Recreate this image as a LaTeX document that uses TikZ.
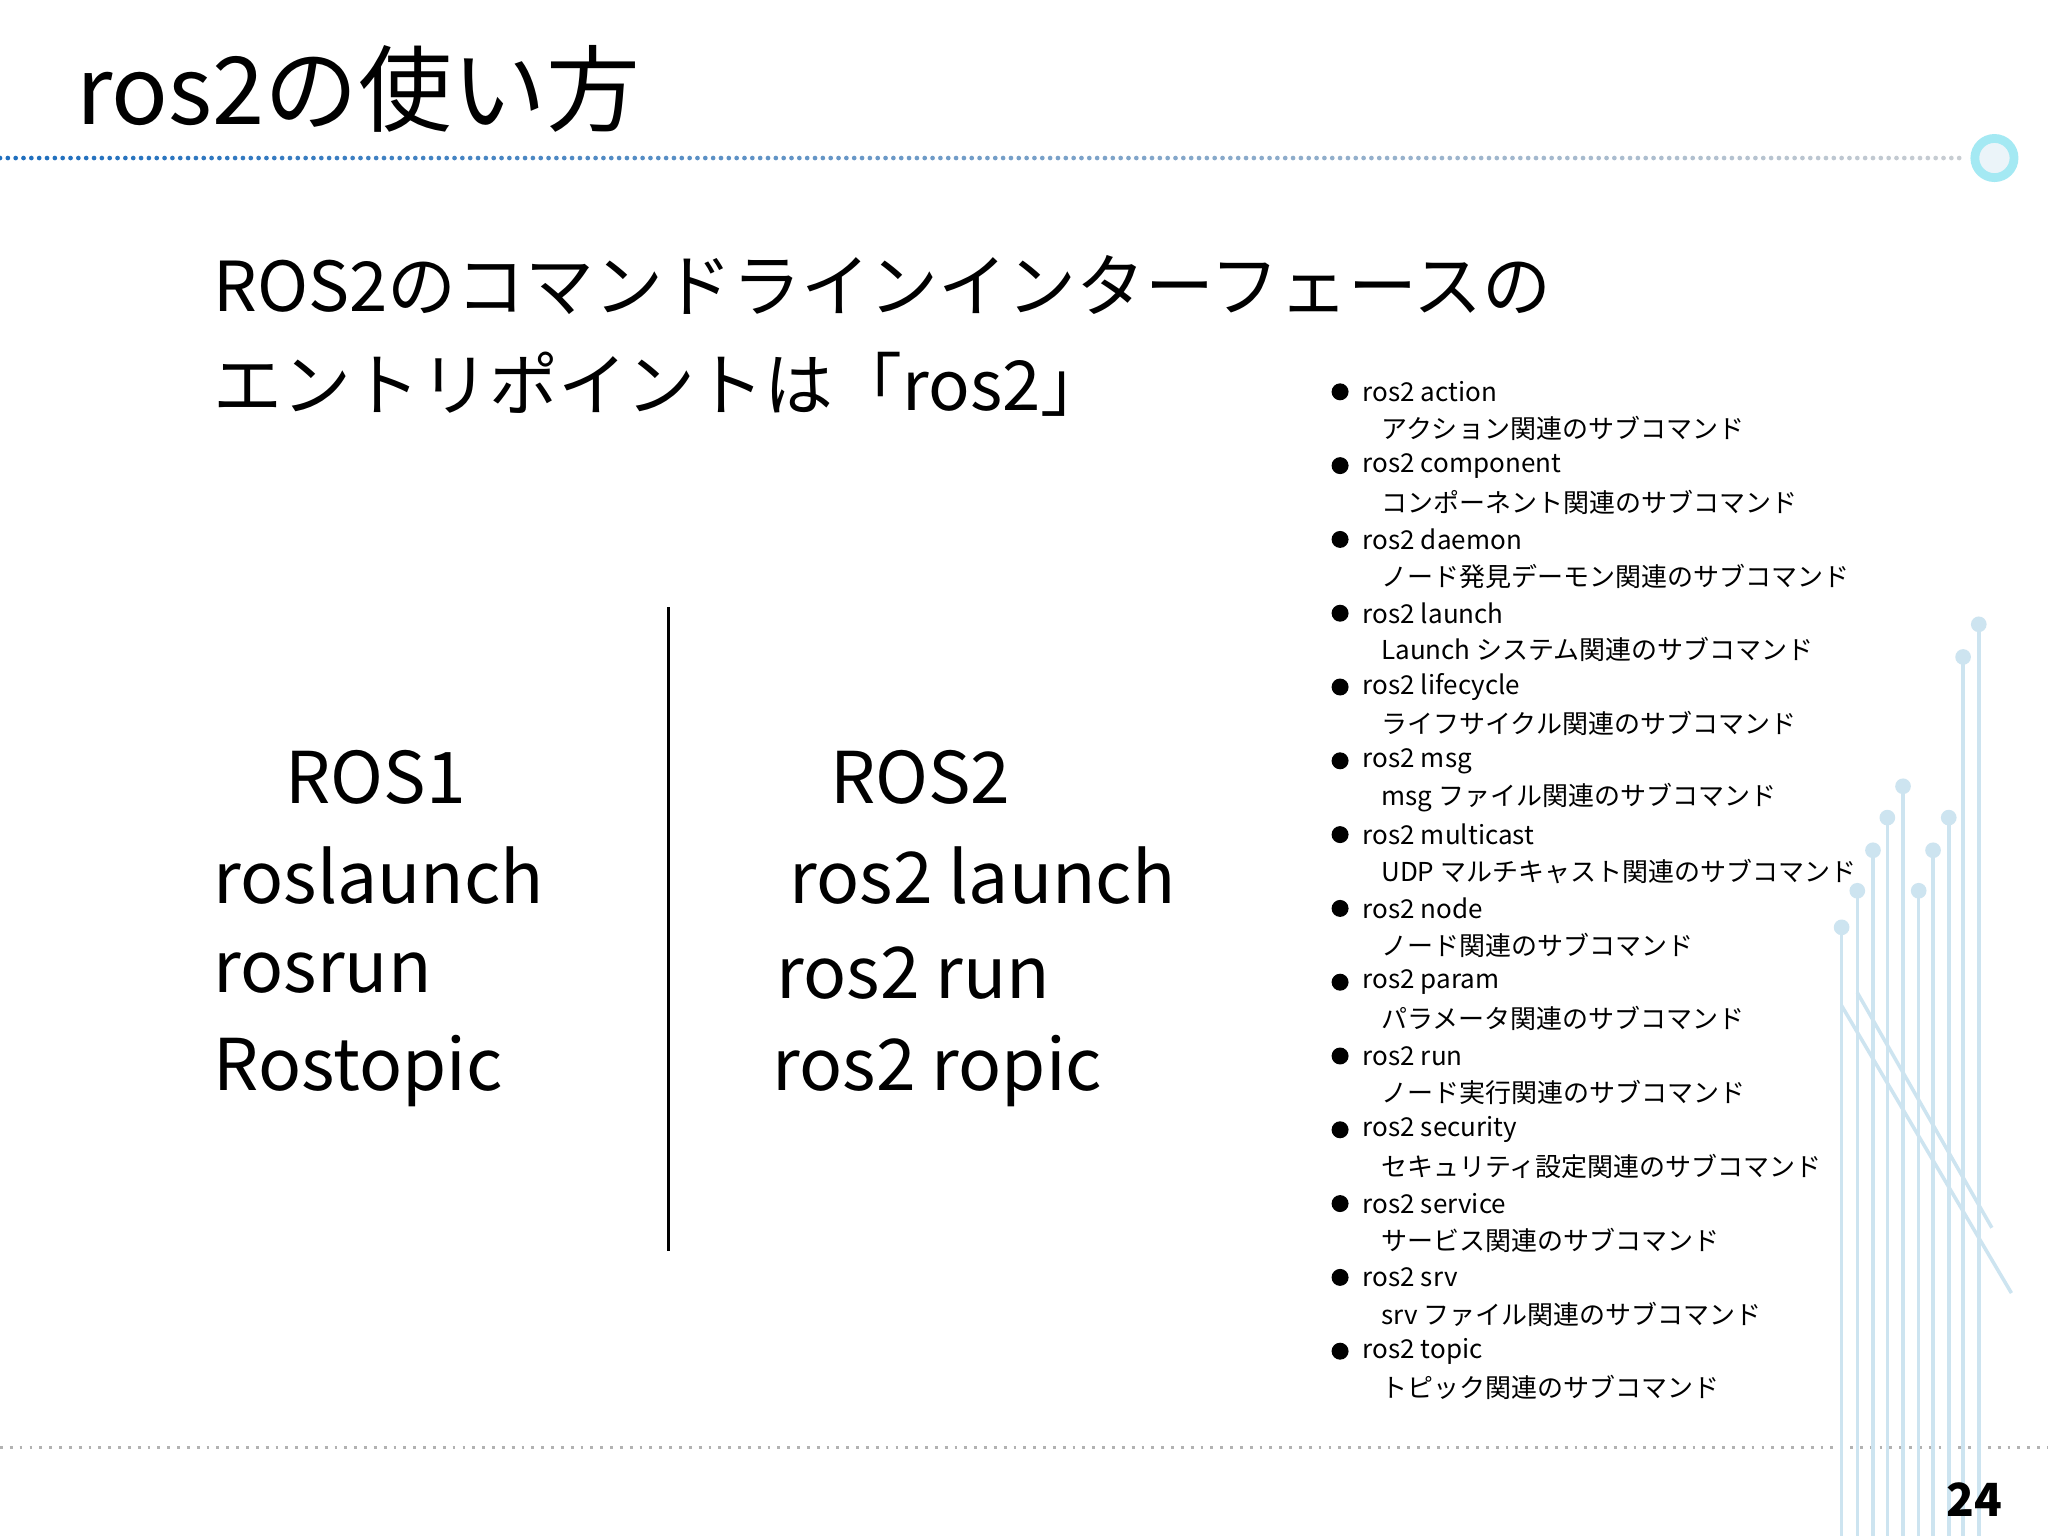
\documentclass[tikz,border=0pt]{standalone}
\usepackage{fontspec}
\setmainfont{Noto Sans CJK JP}
\definecolor{dc}{RGB}{205,228,240}
\definecolor{hb}{RGB}{30,110,190}
\definecolor{hg}{RGB}{200,205,210}
\begin{document}
\begin{tikzpicture}[x=0.0130612cm,y=-0.0130612cm,
  t/.style={anchor=west,inner sep=0pt},
  big/.style={t,font=\fontsize{20.3pt}{24pt}\selectfont},
  head/.style={t,font=\fontsize{19.6pt}{22pt}\selectfont},
  li/.style={t,font=\fontsize{7.4pt}{9pt}\selectfont},
  deco/.style={draw=dc,line width=1pt},
  dot/.style={fill=dc}]
\useasboundingbox (0,0) rectangle (1568,1176);
\fill[white] (0,0) rectangle (1568,1176);
\node[t,font=\fontsize{26.7pt}{32pt}\selectfont] (title) at (58,68) {ros2の使い方};
% header dotted line
\foreach \i in {0,...,250}{
  \pgfmathsetmacro{\p}{100-\i*0.4}
  \fill[hb!\p!hg] (\i*6,121) circle (1.8);
}
\draw[dc!80!cyan,line width=2.5pt,fill=dc!40] (1527,121) circle (15);
\draw[gray!60,dotted,line width=0.8pt] (0,1108) -- (1568,1108);
% decorations
\foreach \x/\y in {1515/478,1503/503,1457/602,1445/626,1492/626,1480/651,1434/651,1469/682,1422/682,1410/710}{
  \draw[deco] (\x,\y) -- (\x,1176);
  \fill[dot] (\x,\y) circle (6);
}
\draw[deco] (1410,770) -- (1540,990);
\draw[deco] (1422,760) -- (1525,940);
\node[head] (h1) at (163,218) {ROS2のコマンドラインインターフェースの};
\node[head] (h2) at (163,294) {エントリポイントは「ros2」};
\draw[line width=1pt] (512,465) -- (512,958);
\node[big] (a1) at (218,595) {ROS1};
\node[big] (a2) at (163,670) {roslaunch};
\node[big] (a3) at (163,745) {rosrun};
\node[big] (a4) at (163,820) {Rostopic};
\node[big] (b1) at (635,595) {ROS2};
\node[big] (b2) at (604,670) {ros2 launch};
\node[big] (b3) at (594,745) {ros2 run};
\node[big] (b4) at (591,820) {ros2 ropic};
\foreach [count=\i from 0] \a/\b in {action/アクション関連のサブコマンド,component/コンポーネント関連のサブコマンド,daemon/ノード発見デーモン関連のサブコマンド,launch/Launch システム関連のサブコマンド,lifecycle/ライフサイクル関連のサブコマンド,msg/msg ファイル関連のサブコマンド,multicast/UDP マルチキャスト関連のサブコマンド,node/ノード関連のサブコマンド,param/パラメータ関連のサブコマンド,run/ノード実行関連のサブコマンド,security/セキュリティ設定関連のサブコマンド,service/サービス関連のサブコマンド,srv/srv ファイル関連のサブコマンド,topic/トピック関連のサブコマンド}{
  \fill (1026,300+\i*56.5) circle (6.5);
  \node[li] (l\i) at (1043,300+\i*56.5) {ros2 \a};
  \node[li] (m\i) at (1057,328+\i*56.5) {\b};
}
\node[t,font=\bfseries\fontsize{13pt}{15pt}\selectfont] (pg) at (1490,1148) {24};
\end{tikzpicture}
\end{document}
